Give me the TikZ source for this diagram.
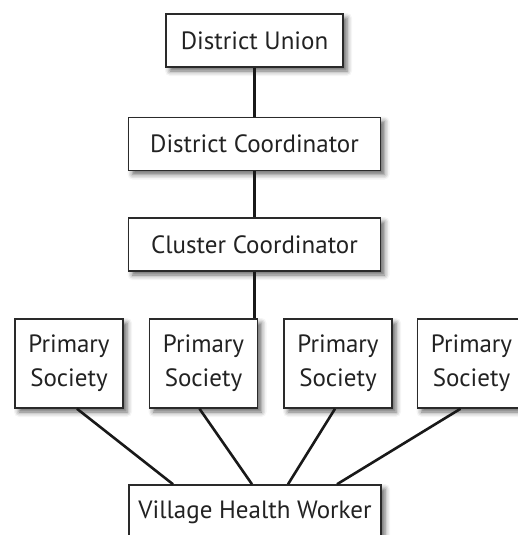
\documentclass[tikz,border=0pt]{standalone}
\usepackage{fontspec}
\setmainfont{PT Sans}
\usepackage{tikz}
\usepackage{xcolor}
\usetikzlibrary{positioning,shadows.blur}
\definecolor{inkgray}{HTML}{222222}
\definecolor{edgegray}{HTML}{2A2A2A}

\begin{document}
\begin{tikzpicture}[x=1pt,y=1pt,
  node distance=25pt,
  orgbox/.style={draw=edgegray,line width=1.5pt,fill=white,text=inkgray,font=\fontsize{25}{34}\selectfont,minimum height=53pt,inner sep=0pt,
    blur shadow={shadow xshift=4pt,shadow yshift=-4pt,shadow blur radius=5pt,shadow opacity=60}},
  psbox/.style={orgbox,minimum width=108pt,minimum height=89pt,align=center},
  link/.style={line width=2.6pt,draw=black!90}
]
\useasboundingbox (0,0) rectangle (518,-535);
% chain of command
\node[orgbox,minimum width=177pt] (du) at (254.5,-40.5) {District Union};
\node[orgbox,minimum width=252pt,below=49pt of du.south,anchor=north] (dc) {District Coordinator};
\node[orgbox,minimum width=252pt,below=46pt of dc.south,anchor=north] (cc) {Cluster Coordinator};
% societies
\node[psbox] (ps1) at (69,-363.5) {Primary\\Society};
\node[psbox,right=of ps1] (ps2) {Primary\\Society};
\node[psbox,right=of ps2] (ps3) {Primary\\Society};
\node[psbox,right=24pt of ps3] (ps4) {Primary\\Society};
\node[orgbox,minimum width=252pt,minimum height=54pt] (vhw) at (255,-512) {Village Health Worker};
% links
\draw[link] (du.south) -- (dc.north);
\draw[link] (dc.south) -- (cc.north);
\draw[link] (cc.south) -- (cc.south |- ps2.north);
\draw[link] ([xshift=8pt]ps1.south) -- ([xshift=-82pt]vhw.north);
\draw[link] ([xshift=-4pt]ps2.south) -- ([xshift=-3pt]vhw.north);
\draw[link] ([xshift=-3pt]ps3.south) -- ([xshift=33pt]vhw.north);
\draw[link] ([xshift=-11pt]ps4.south) -- ([xshift=82pt]vhw.north);
\end{tikzpicture}
\end{document}
